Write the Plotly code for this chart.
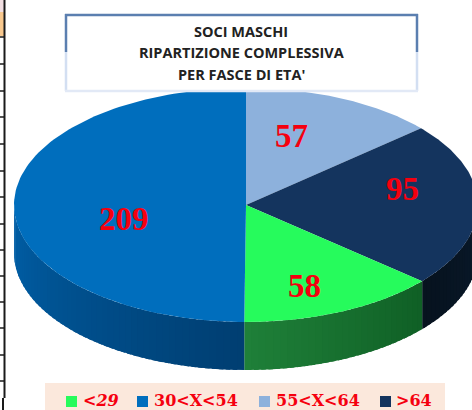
import numpy as np
import plotly.graph_objects as go

categories = ["<29", "30<X<54", "55<X<64", ">64"]
values = [58, 209, 57, 95]
colors = ["#26FB5C", "#006EBD", "#8DB1DC", "#14345E"]
side_from = ["#1F8039", "#0060A8", "#0A2440", "#07131F"]
side_to = ["#106026", "#003F72", "#0A2440", "#0A1A2C"]
slice_order = [2, 3, 0, 1]
title_lines = ["SOCI MASCHI", "RIPARTIZIONE COMPLESSIVA", "PER FASCE DI ETA'"]

W, H = 472, 410
CX, CY, RX, RY, DEPTH = 246, 205, 232, 117, 48


def hex_rgb(h):
    return np.array([int(h[i:i + 2], 16) for i in (1, 3, 5)], dtype=float)


def mix(a, b, t):
    c = hex_rgb(a) * (1 - t) + hex_rgb(b) * t
    return "rgb(%d,%d,%d)" % tuple(c)


def ell(theta, dy=0.0):
    return CX + RX * np.sin(theta), CY - RY * np.cos(theta) + dy


fig = go.Figure()
total = sum(values)
start = 0.0
spans = []
for i in slice_order:
    sweep = values[i] / total * 2 * np.pi
    spans.append((i, start, start + sweep))
    start += sweep

# side wall, drawn in thin strips for the shading
for i, a, b in spans:
    lo, hi = max(a, np.pi / 2), min(b, 3 * np.pi / 2)
    if hi <= lo:
        continue
    n = max(2, int((hi - lo) / 0.03))
    edges = np.linspace(lo, hi, n + 1)
    for k in range(n):
        t = 1 - k / (n - 1)
        col = mix(side_from[i], side_to[i], t)
        th = np.linspace(edges[k], min(edges[k + 1] + 0.02, hi), 4)
        x0, y0 = ell(th)
        x1, y1 = ell(th[::-1], DEPTH)
        fig.add_trace(go.Scatter(
            x=np.r_[x0, x1], y=np.r_[y0, y1], mode="lines", fill="toself",
            line=dict(width=0), fillcolor=col,
            hoverinfo="skip", showlegend=False))

# top face
for i, a, b in spans:
    th = np.linspace(a, b, 120)
    x, y = ell(th)
    fig.add_trace(go.Scatter(
        x=np.r_[CX, x, CX], y=np.r_[CY, y, CY], mode="lines", fill="toself",
        line=dict(width=0), fillcolor=colors[i], hoverinfo="skip", showlegend=False))

# value labels
RED = "#F5000F"
label_pos = {0: (304, 286), 1: (124, 219), 2: (291, 136), 3: (402, 189)}
ann = []
for i in range(4):
    ann.append(dict(x=label_pos[i][0], y=label_pos[i][1], text="<b>%d</b>" % values[i], showarrow=False,
                    font=dict(family="Liberation Serif", size=33, color=RED)))

BLUE = "#5B7FB0"
PALE = "#D3DFF2"
INK = "#1A1A1A"
shapes = [
    dict(type="rect", x0=65, x1=418, y0=14, y1=92, fillcolor="white", line=dict(width=0), layer="above"),
    dict(type="line", x0=66, x1=66, y0=52, y1=91, line=dict(color=PALE, width=2.5), layer="above"),
    dict(type="line", x0=417, x1=417, y0=52, y1=91, line=dict(color=PALE, width=2.5), layer="above"),
    dict(type="line", x0=65, x1=418, y0=91, y1=91, line=dict(color="#E2E9F6", width=2.5), layer="above"),
    dict(type="line", x0=65, x1=418, y0=15, y1=15, line=dict(color=BLUE, width=2.5), layer="above"),
    dict(type="line", x0=66, x1=66, y0=14, y1=52, line=dict(color=BLUE, width=2.5), layer="above"),
    dict(type="line", x0=417, x1=417, y0=14, y1=52, line=dict(color=BLUE, width=2.5), layer="above"),
    dict(type="rect", x0=45, x1=445, y0=383, y1=410, fillcolor="#FBE8DC", line=dict(width=0), layer="above"),
    dict(type="rect", x0=0, x1=4, y0=0, y1=12, fillcolor="#F2DFE2", line=dict(width=0), layer="above"),
    dict(type="rect", x0=0, x1=4, y0=12, y1=36, fillcolor="#F8C88E", line=dict(width=0), layer="above"),
    dict(type="line", x0=4.5, x1=4.5, y0=0, y1=398, line=dict(color=INK, width=2), layer="above"),
    dict(type="line", x0=3, x1=3, y0=398, y1=410, line=dict(color=INK, width=2), layer="above"),
]
for yy in [37, 64, 91, 117, 144, 171, 197, 224, 250, 276, 302, 328, 355, 381]:
    shapes.append(dict(type="line", x0=0, x1=4, y0=yy, y1=yy, line=dict(color=INK, width=1.5), layer="above"))

for line, yy in zip(title_lines, [31, 52, 74]):
    ann.append(dict(x=241, y=yy, text="<b>%s</b>" % line, showarrow=False,
                    font=dict(family="Open Sans", size=14.5, color="#222222")))

leg_sw = [71.5, 142.5, 264.5, 385.5]
leg_tx = [81, 152, 274, 394]
for i in range(4):
    shapes.append(dict(type="rect", x0=leg_sw[i] - 5.5, x1=leg_sw[i] + 5.5, y0=396, y1=407,
                       fillcolor=colors[i], line=dict(width=0), layer="above"))
    label = "<b>%s</b>" % categories[i].replace("<", "&lt;")
    if i == 0:
        label = "<i>%s</i>" % label
    ann.append(dict(x=leg_tx[i], y=400.5, xanchor="left", text=label,
                    showarrow=False, font=dict(family="DejaVu Serif", size=16, color=RED)))

fig.update_layout(
    width=W, height=H, margin=dict(l=0, r=0, t=0, b=0), paper_bgcolor="white", plot_bgcolor="white",
    xaxis=dict(range=[0, W], visible=False, fixedrange=True),
    yaxis=dict(range=[H, 0], visible=False, fixedrange=True),
    shapes=shapes, annotations=ann, showlegend=False)
fig.write_html("out.html", config=dict(displayModeBar=False),
               post_script="document.body.style.margin='0';document.body.style.overflow='hidden';")
